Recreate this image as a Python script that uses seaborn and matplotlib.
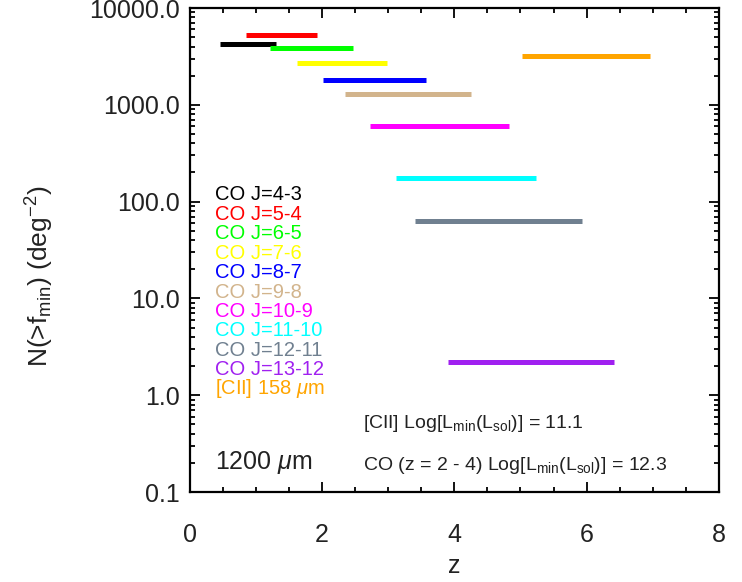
import numpy as np
import pandas as pd
import matplotlib
matplotlib.use("Agg")
import matplotlib.pyplot as plt
from matplotlib.ticker import LogLocator, FixedLocator, MultipleLocator, FuncFormatter
import seaborn as sns

# ---- data ----
lines = ["CO J=4-3", "CO J=5-4", "CO J=6-5", "CO J=7-6", "CO J=8-7", "CO J=9-8",
         "CO J=10-9", "CO J=11-10", "CO J=12-11", "CO J=13-12", "[CII] 158 $\\mu$m"]
z_start = [0.46, 0.86, 1.22, 1.63, 2.02, 2.35, 2.72, 3.12, 3.41, 3.91, 5.03]
z_end = [1.31, 1.93, 2.47, 2.99, 3.58, 4.25, 4.83, 5.24, 5.93, 6.42, 6.95]
n_counts = [4250, 5300, 3850, 2700, 1800, 1280, 610, 177, 63, 2.2, 3200]
colors = ["#000000", "#FF0000", "#00FF00", "#FFFF00", "#0000FF", "#D2B48C",
          "#FF00FF", "#00FFFF", "#708090", "#A020F0", "#FFA500"]
y_ticks = [0.1, 1.0, 10.0, 100.0, 1000.0, 10000.0]
x_ticks = [0, 2, 4, 6, 8]

sns.set_theme(style="ticks")
plt.rcParams['font.family'] = ['Liberation Sans', 'DejaVu Sans']
plt.rcParams['mathtext.fontset'] = 'custom'
plt.rcParams['mathtext.rm'] = 'Liberation Sans'
plt.rcParams['mathtext.it'] = 'Liberation Sans:italic'
plt.rcParams['mathtext.bf'] = 'Liberation Sans:bold'

rows = []
for name, a, b, n in zip(lines, z_start, z_end, n_counts):
    rows.append({"line": name, "z": a, "N": n})
    rows.append({"line": name, "z": b, "N": n})
df = pd.DataFrame(rows)

fig = plt.figure(figsize=(7.42, 5.82), dpi=100)
ax = fig.add_axes([189.5 / 742, 90 / 582, (719 - 189.5) / 742, (492 - 8) / 582])

sns.lineplot(data=df, x="z", y="N", hue="line", palette=dict(zip(lines, colors)),
             linewidth=3.6, legend=False, estimator=None, sort=False, ax=ax,
             solid_capstyle="butt")

ax.set_yscale("log")
ax.set_xlim(0, 8)
ax.set_ylim(0.1, 10000)
ax.yaxis.set_major_locator(FixedLocator(y_ticks))
ax.yaxis.set_major_formatter(FuncFormatter(lambda v, p: f"{v:.1f}"))
ax.yaxis.set_minor_locator(LogLocator(base=10, subs=np.arange(2, 10), numticks=20))
ax.xaxis.set_major_locator(FixedLocator(x_ticks))
ax.xaxis.set_minor_locator(MultipleLocator(0.5))
ax.xaxis.set_major_formatter(FuncFormatter(lambda v, p: f"{int(v)}"))

for s in ax.spines.values():
    s.set_linewidth(1.6)
    s.set_color("black")
ax.tick_params(which="both", direction="in", top=True, right=True, color="black", width=1.3)
ax.tick_params(which="major", length=7)
ax.tick_params(which="minor", length=3.5)
ax.tick_params(axis="y", which="major", labelsize=18, pad=7)
ax.tick_params(axis="x", which="major", labelsize=18, pad=22)
for lab in ax.get_yticklabels():
    lab.set_color("#222222")
for lab in ax.get_xticklabels():
    lab.set_color("#222222")

ax.set_xlabel("z", fontsize=18, color="#222222")
ax.set_ylabel("N(>f$_{\\mathrm{min}}$) (deg$^{-2}$)", fontsize=19, color="#222222")
ax.xaxis.label.set_va("center")
ax.yaxis.label.set_va("center")
ax.xaxis.set_label_coords(0.5, (492 - 566) / 484)
ax.yaxis.set_label_coords((40 - 189.5) / 529.5, (492 - 276) / 484)

x0 = (215 - 189.5) / 529.5
y0 = (492 - 195) / 484
dy = 19.4 / 484
for i, (name, c) in enumerate(zip(lines, colors)):
    ax.text(x0, y0 - i * dy, name, color=c, fontsize=14.5, transform=ax.transAxes,
            ha="left", va="center")

ax.text(x0, (492 - 462) / 484, "1200 $\\mu$m", fontsize=18, transform=ax.transAxes,
        ha="left", va="center", color="#222222")
ax.text((363 - 189.5) / 529.5, (492 - 423) / 484,
        "[CII] Log[L$_{\\mathrm{min}}$(L$_{\\mathrm{sol}}$)] = 11.1",
        fontsize=14, transform=ax.transAxes, ha="left", va="center", color="#222222")
ax.text((363 - 189.5) / 529.5, (492 - 465) / 484,
        "CO (z = 2 - 4) Log[L$_{\\mathrm{min}}$(L$_{\\mathrm{sol}}$)] = 12.3",
        fontsize=14, transform=ax.transAxes, ha="left", va="center", color="#222222")

fig.savefig("out.png", dpi=100, facecolor="white")
